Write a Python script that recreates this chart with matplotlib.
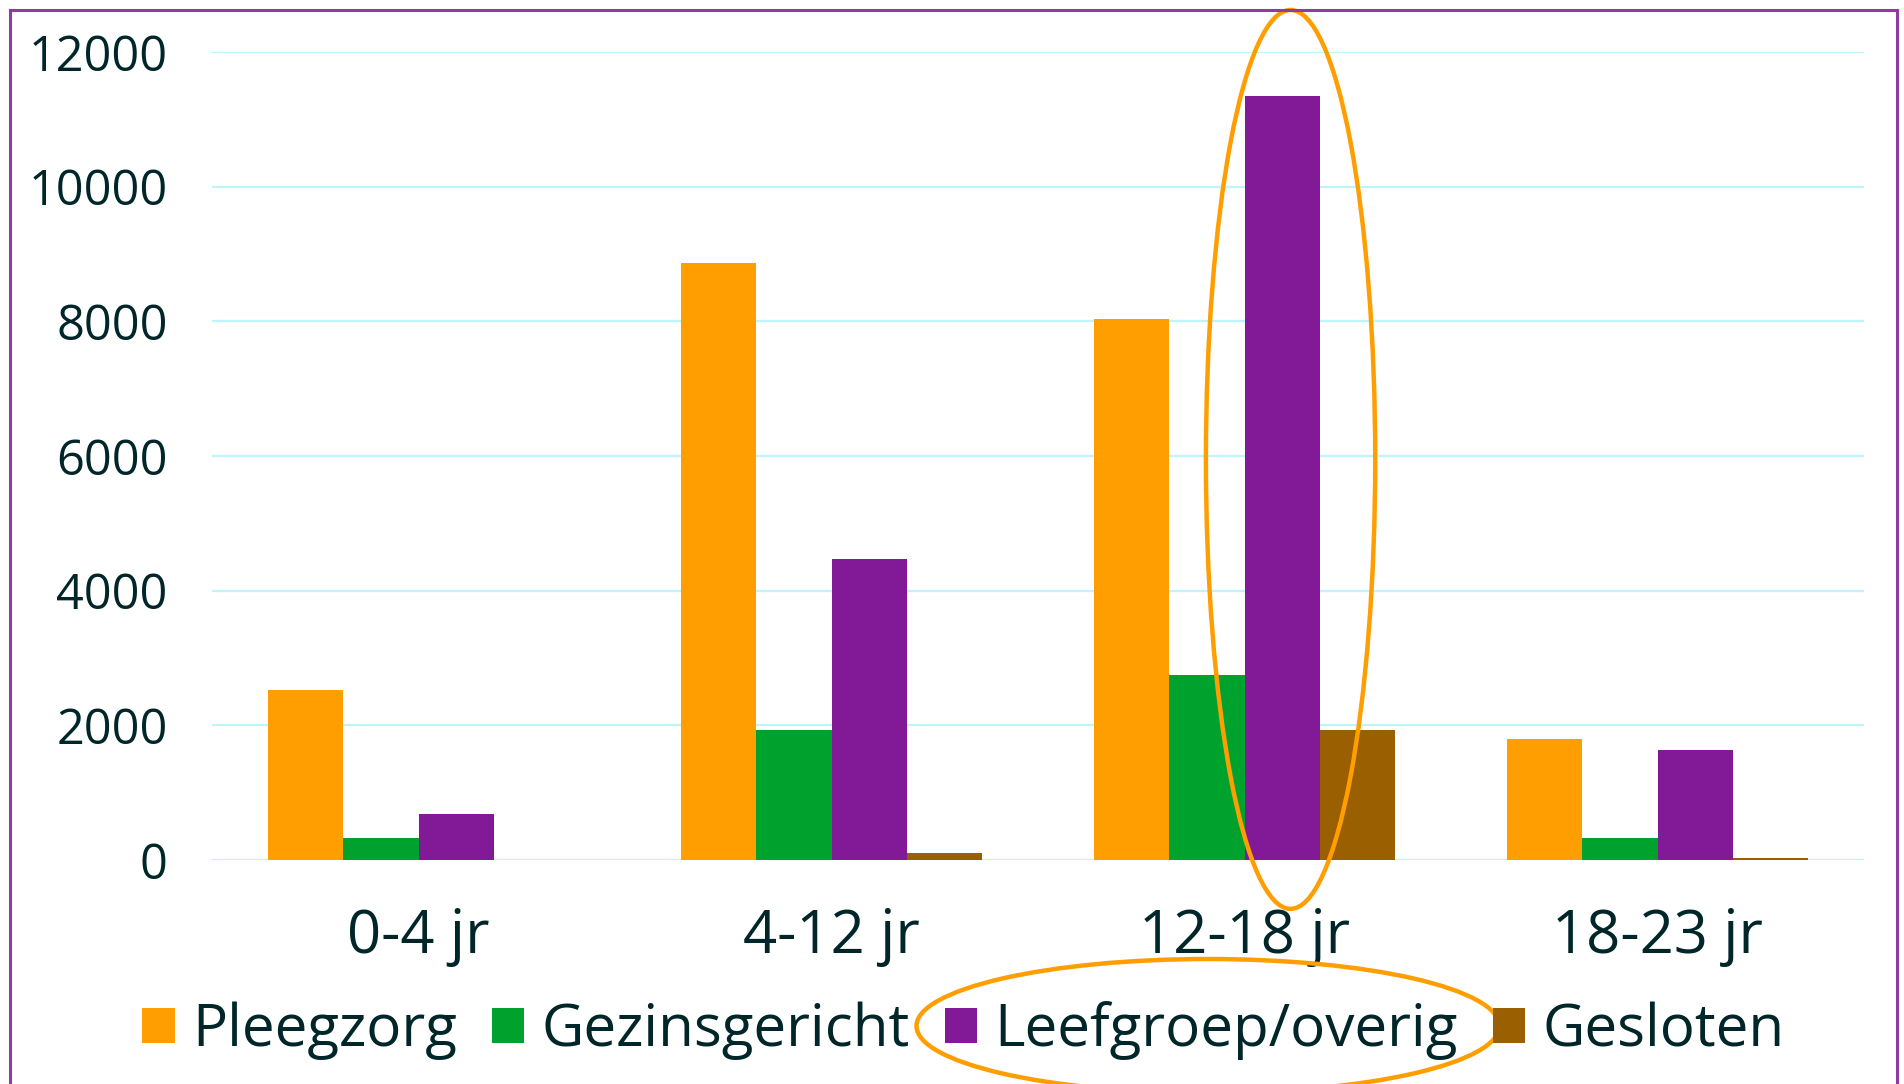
import numpy as np
import matplotlib
matplotlib.use('Agg')
import matplotlib.pyplot as plt
from matplotlib.patches import Ellipse, Rectangle

# data
categories = ['0-4 jr', '4-12 jr', '12-18 jr', '18-23 jr']
series_names = ['Pleegzorg', 'Gezinsgericht', 'Leefgroep/overig', 'Gesloten']
pleegzorg = [2520, 8860, 8030, 1800]
gezinsgericht = [325, 1930, 2745, 320]
leefgroep = [685, 4475, 11350, 1630]
gesloten = [0, 110, 1930, 30]
y_ticks = [0, 2000, 4000, 6000, 8000, 10000, 12000]

colors = ['#FF9E00', '#00A22E', '#821A97', '#9A5F00']
text_c = '#00262A'
grid_c = '#BFF4FA'
frame_c = '#8E3BA8'
mark_c = '#FF9E00'

plt.rcParams['font.family'] = ['Open Sans', 'DejaVu Sans']

fig = plt.figure(figsize=(19.04, 10.84), dpi=100)
ax = fig.add_axes([0.1115, 0.2066, 0.8675, 0.7454])

values = [pleegzorg, gezinsgericht, leefgroep, gesloten]
x = np.arange(len(categories))
w = 0.73 / 4
for i, (vals, name) in enumerate(zip(values, series_names)):
    ax.bar(x + (i - 1.5) * w, vals, width=w, color=colors[i], label=name, zorder=3)

ax.set_xlim(-0.5, len(categories) - 0.5)
ax.set_ylim(0, 12000)
ax.set_yticks(y_ticks)
ax.set_yticklabels([str(v) for v in y_ticks])
ax.set_xticks(x)
ax.set_xticklabels(categories)
ax.tick_params(axis='y', length=0, pad=32, labelsize=35, labelcolor=text_c)
ax.tick_params(axis='x', length=0, pad=34, labelsize=43, labelcolor=text_c)
ax.yaxis.grid(True, color=grid_c, linewidth=1.6, zorder=0)
ax.set_axisbelow(True)
for s in ax.spines.values():
    s.set_visible(False)

leg = fig.legend(loc='center', bbox_to_anchor=(0.506, 0.049), ncol=4, frameon=False,
                 fontsize=42, handlelength=0.55, handleheight=0.55, handletextpad=0.3,
                 columnspacing=0.6, borderaxespad=0)
for t in leg.get_texts():
    t.set_color(text_c)

# annotation ellipse around the 12-18 jr leefgroep bar
ax.add_patch(Ellipse((2 + 0.5 * w + 0.02, 5950), 0.41, 13350, fill=False,
                     edgecolor=mark_c, linewidth=3.2, clip_on=False, zorder=5))

# ellipse around the legend entry (figure pixels)
px = fig.dpi_scale_trans
fig.patches.append(Ellipse((12.08, 10.84 - 10.26), 5.83, 1.34, fill=False,
                           edgecolor=mark_c, linewidth=3.2, transform=px))

# purple frame
fig.patches.append(Rectangle((0.10, -0.2), 18.87, 10.84 - 0.10 + 0.2, fill=False,
                             edgecolor=frame_c, linewidth=2.2, transform=px))

fig.savefig('out.png', dpi=100)
